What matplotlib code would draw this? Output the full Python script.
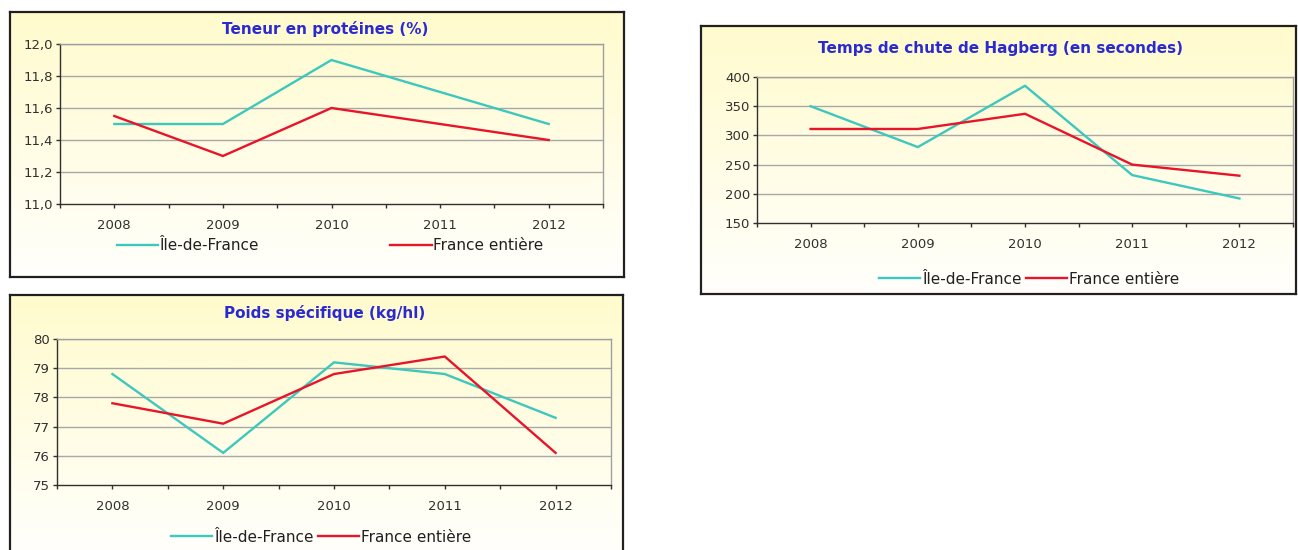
import matplotlib
matplotlib.use("Agg")
import matplotlib.pyplot as plt
import numpy as np
from matplotlib.ticker import FixedLocator, FuncFormatter

W, H = 1298, 550
plt.rcParams['font.family'] = ['DejaVu Sans']

years = ["2008", "2009", "2010", "2011", "2012"]
series_names = ["Île-de-France", "France entière"]

prot_idf = [11.5, 11.5, 11.9, 11.7, 11.5]
prot_fr = [11.55, 11.3, 11.6, 11.5, 11.4]

hag_idf = [350, 280, 385, 232, 192]
hag_fr = [311, 311, 337, 250, 231]

ps_idf = [78.8, 76.1, 79.2, 78.8, 77.3]
ps_fr = [77.8, 77.1, 78.8, 79.4, 76.1]

titles = ["Teneur en protéines (%)", "Temps de chute de Hagberg (en secondes)",
          "Poids spécifique (kg/hl)"]

TEAL = "#3cc8bc"
RED = "#e8142a"
TITLE_C = "#2a2ad0"

fig = plt.figure(figsize=(W / 100, H / 100), dpi=100)


def px_axes(x0, y0, x1, y1, z=1):
    return fig.add_axes([x0 / W, 1 - y1 / H, (x1 - x0) / W, (y1 - y0) / H], zorder=z)


def frame(x0, y0, x1, y1, bottom=True):
    a = px_axes(x0, y0, x1, y1, z=0)
    top = np.array([255, 251, 205]) / 255
    bot = np.array([255, 255, 252]) / 255
    t = np.linspace(0, 1, 256)[:, None]
    grad = top[None, :] * (1 - t) + bot[None, :] * t
    grad = np.repeat(grad[:, None, :], 2, axis=1)
    a.imshow(grad, extent=[0, 1, 0, 1], aspect='auto', interpolation='bilinear')
    a.set_xlim(0, 1)
    a.set_ylim(0, 1)
    a.set_xticks([])
    a.set_yticks([])
    for s in a.spines.values():
        s.set_color("#202020")
        s.set_linewidth(1.6)
    if not bottom:
        a.spines['bottom'].set_visible(False)
    return a


def panel(rect, ylim, yticks, fmt, idf, fr, title, title_xy, leg_xy, colsp):
    ax = px_axes(*rect, z=2)
    ax.set_facecolor("none")
    x = np.arange(len(years))
    ax.plot(x, idf, color=TEAL, lw=1.7, label=series_names[0], solid_joinstyle='miter')
    ax.plot(x, fr, color=RED, lw=1.7, label=series_names[1], solid_joinstyle='miter')
    ax.set_xlim(-0.5, len(years) - 0.5)
    ax.set_ylim(*ylim)
    ax.yaxis.set_major_locator(FixedLocator(yticks))
    ax.yaxis.set_major_formatter(FuncFormatter(fmt))
    ax.set_xticks(x)
    ax.set_xticklabels(years)
    ax.xaxis.set_minor_locator(FixedLocator(np.arange(-0.5, len(years), 1.0)))
    for yv in yticks[1:]:
        ax.axhline(yv, color="#a8a8a8", lw=1.0, zorder=0.5)
    ax.tick_params(axis='both', which='both', direction='out', length=3, width=1,
                   color="#303030", labelsize=9.5, labelcolor="#303030")
    ax.tick_params(axis='x', pad=8)
    ax.tick_params(axis='y', pad=2)
    for s in ['top', 'right']:
        ax.spines[s].set_color("#a0a0a0")
        ax.spines[s].set_linewidth(1.0)
    for s in ['left', 'bottom']:
        ax.spines[s].set_color("#303030")
        ax.spines[s].set_linewidth(1.0)
    fig.text(title_xy[0] / W, 1 - title_xy[1] / H, title, ha='center', va='center',
             color=TITLE_C, fontsize=11, fontweight='bold')
    leg = ax.legend(loc='center', bbox_to_anchor=(leg_xy[0] / W, 1 - leg_xy[1] / H),
                    bbox_transform=fig.transFigure, ncol=2, frameon=False,
                    fontsize=11, handlelength=2.7, handletextpad=0.1,
                    columnspacing=colsp, borderpad=0, borderaxespad=0)
    for t in leg.get_texts():
        t.set_color("#202020")
    return ax


frame(10, 12, 624, 277)
frame(701, 26, 1296, 294)
frame(10, 295, 623, 556, bottom=False)

comma = lambda v, p: f"{v:.1f}".replace(".", ",")
integer = lambda v, p: f"{v:.0f}"

panel((60, 44, 603, 204), (11.0, 12.0), [11.0, 11.2, 11.4, 11.6, 11.8, 12.0], comma,
      prot_idf, prot_fr, titles[0], (325, 29), (330, 246), 8.6)
panel((757, 77, 1293, 223), (150, 400), [150, 200, 250, 300, 350, 400], integer,
      hag_idf, hag_fr, titles[1], (1000, 48), (1029, 279), 0.3)
panel((57, 339, 611, 485), (75, 80), [75, 76, 77, 78, 79, 80], integer,
      ps_idf, ps_fr, titles[2], (325, 313), (321, 537), 0.3)

fig.savefig("out.png", dpi=100)
